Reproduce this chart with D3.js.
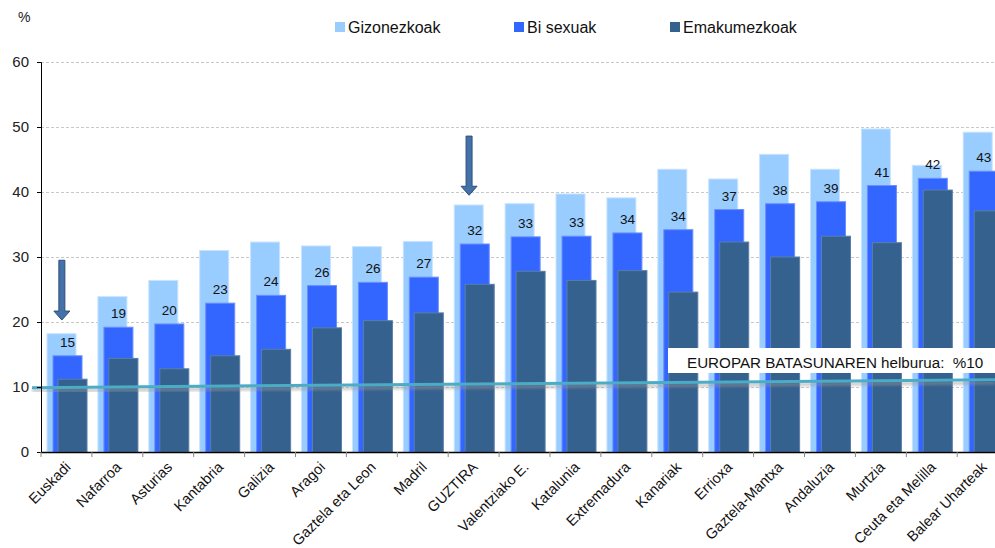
<!DOCTYPE html>
<html>
<head>
<meta charset="utf-8">
<script src="https://cdn.jsdelivr.net/npm/d3@7"></script>
<style>
body{margin:0;background:#fff;}
svg{display:block;font-family:"Liberation Sans",Arial,sans-serif;}
</style>
</head>
<body>
<svg id="graph"></svg>
<script>
var categories = ["Euskadi","Nafarroa","Asturias","Kantabria","Galizia","Aragoi","Gaztela eta Leon","Madril","GUZTIRA",
  "Valentziako E.","Katalunia","Extremadura","Kanariak","Errioxa","Gaztela-Mantxa","Andaluzia","Murtzia","Ceuta eta Melilla","Balear Uharteak"]
var gizonezkoak = [18.2,23.9,26.4,31.0,32.3,31.7,31.6,32.4,38.0,38.2,39.7,39.1,43.5,42.0,45.8,43.5,49.7,44.1,49.2]
var biSexuak = [14.8,19.2,19.7,22.9,24.1,25.6,26.1,26.9,32.0,33.1,33.2,33.7,34.2,37.3,38.2,38.5,41.0,42.1,43.2]
var emakumezkoak = [11.2,14.4,12.8,14.8,15.8,19.1,20.2,21.4,25.8,27.8,26.4,27.9,24.6,32.3,30.0,33.2,32.2,40.3,37.1]
var biLabels = [15,19,20,23,24,26,26,27,32,33,33,34,34,37,38,39,41,42,43]
var yTicks = [0,10,20,30,40,50,60]
var seriesNames = ["Gizonezkoak","Bi sexuak","Emakumezkoak"]
var targetLine = [9.9,11.1]
var targetText = "EUROPAR BATASUNAREN helburua:  %10"
var arrows = [{cat:"Euskadi",from:29.5,to:20.3},{cat:"GUZTIRA",from:48.6,to:39.5}]

var colors = ["#99CCFF","#3366FF","#35618F"]
var strokes = ["#c8e4ff","#6b8fff","#5a7fa8"]

var screen = {width:995,height:548}
var svg = d3.select("#graph").attr("width",screen.width).attr("height",screen.height)

var xScale = d3.scaleBand().domain(categories).range([41,41+19*50.9])
var yScale = d3.scaleLinear().domain([0,60]).range([452,62])
var bw = xScale.bandwidth()

// grid
svg.append("g").selectAll("line").data(yTicks.filter(function(d){return d>0}))
  .enter().append("line")
  .attr("x1",41).attr("x2",screen.width)
  .attr("y1",function(d){return yScale(d)+0.5}).attr("y2",function(d){return yScale(d)+0.5})
  .attr("stroke","#c8c8c8").attr("stroke-dasharray","3,2").attr("stroke-width",1)

// bars
var series = [gizonezkoak,biSexuak,emakumezkoak]
var offsets = [0.118,0.236,0.334]
series.forEach(function(vals,i)
{
  svg.append("g").selectAll("rect").data(vals).enter().append("rect")
    .attr("x",function(d,j){return xScale(categories[j])+offsets[i]*bw})
    .attr("y",function(d){return yScale(d)})
    .attr("width",bw*0.57)
    .attr("height",function(d){return yScale(0)-yScale(d)})
    .attr("fill",colors[i])
    .attr("stroke",strokes[i]).attr("stroke-width",1)
})

// labels
svg.append("g").selectAll("text").data(biLabels).enter().append("text")
  .attr("x",function(d,j){return xScale(categories[j])+offsets[1]*bw+bw*0.285})
  .attr("y",function(d,j){return yScale(biSexuak[j])-9})
  .attr("text-anchor","middle").attr("font-size",13.5).attr("fill","#111")
  .text(function(d){return d})

// target line with shadow
var defs = svg.append("defs")
defs.append("filter").attr("id","blur").append("feGaussianBlur").attr("stdDeviation",1.5)
svg.append("line")
  .attr("x1",32).attr("x2",screen.width)
  .attr("y1",yScale(targetLine[0])+3).attr("y2",yScale(targetLine[1])+3)
  .attr("stroke","#999").attr("stroke-width",3).attr("opacity",0.6).attr("filter","url(#blur)")
svg.append("line")
  .attr("x1",32).attr("x2",screen.width)
  .attr("y1",yScale(targetLine[0])).attr("y2",yScale(targetLine[1]))
  .attr("stroke","#4BACC6").attr("stroke-width",3)

svg.append("rect").attr("x",668).attr("y",348).attr("width",340).attr("height",25).attr("fill","#fff")
svg.append("text").attr("x",687).attr("y",368).attr("font-size",15.2).attr("fill","#111")
  .style("white-space","pre").text(targetText)

// arrows
arrows.forEach(function(a)
{
  var cx = xScale(a.cat)+bw*0.41
  var y0 = yScale(a.from), y1 = yScale(a.to)
  var p = d3.path()
  p.moveTo(cx-3,y0); p.lineTo(cx+3,y0); p.lineTo(cx+3,y1-9); p.lineTo(cx+8,y1-9)
  p.lineTo(cx,y1); p.lineTo(cx-8,y1-9); p.lineTo(cx-3,y1-9); p.closePath()
  svg.append("path").attr("d",p.toString()).attr("fill","#4472A8").attr("stroke","#2C4F7C").attr("stroke-width",1)
})

// y axis
var yAxis = d3.axisLeft(yScale).tickValues(yTicks).tickSize(4).tickPadding(8)
var gy = svg.append("g").attr("transform","translate(41,0)").call(yAxis)
gy.select(".domain").attr("stroke","#000")
gy.selectAll(".tick line").attr("stroke","#000")
gy.selectAll("text").attr("font-size",15).attr("fill","#222").attr("font-family","Liberation Sans, Arial")
svg.append("text").attr("x",18).attr("y",22).attr("font-size",14).attr("fill","#222").text("%")

// x axis
var gx = svg.append("g").attr("transform","translate(0,452)")
gx.append("line").attr("x1",41).attr("x2",screen.width).attr("y1",0.5).attr("y2",0.5).attr("stroke","#000").attr("stroke-width",1.5)
gx.selectAll(".tk").data(categories).enter().append("line")
  .attr("x1",function(d){return xScale(d)}).attr("x2",function(d){return xScale(d)})
  .attr("y1",0).attr("y2",5).attr("stroke","#888")
gx.selectAll(".lbl").data(categories).enter().append("text")
  .attr("transform",function(d){return "translate("+(xScale(d)+bw/2+5)+",16) rotate(-45)"})
  .attr("text-anchor","end").attr("font-size",14.6).attr("fill","#111")
  .text(function(d){return d})

// legend
var lx = [335,514,670]
seriesNames.forEach(function(n,i)
{
  svg.append("rect").attr("x",lx[i]).attr("y",22).attr("width",10).attr("height",10).attr("fill",colors[i])
  svg.append("text").attr("x",lx[i]+13).attr("y",33).attr("font-size",16).attr("fill","#111").text(n)
})
</script>
</body>
</html>
